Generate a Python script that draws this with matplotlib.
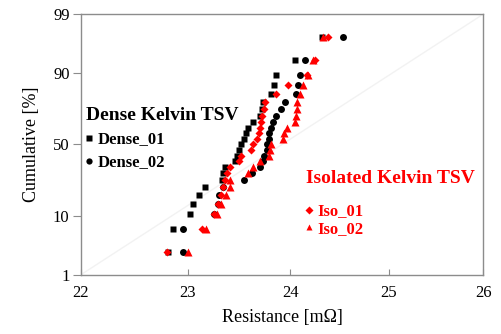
import numpy as np
import matplotlib
matplotlib.use("Agg")
import matplotlib.pyplot as plt
from matplotlib.ticker import FixedLocator, FixedFormatter, NullLocator
from statistics import NormalDist

plt.rcParams['font.family'] = ['Liberation Serif', 'DejaVu Serif']

# cumulative plotting positions [%], shared by all four samples
cum_pct = [2.76, 6.69, 10.63, 14.57, 18.50, 22.44, 26.38, 30.31, 34.25, 38.19,
           42.13, 46.06, 50.00, 53.94, 57.87, 61.81, 65.75, 69.69, 73.62, 77.56,
           81.50, 85.43, 89.37, 93.31, 97.24]

# resistance [mOhm], sorted
dense_01 = [22.81, 22.86, 23.02, 23.05, 23.11, 23.16, 23.33, 23.34, 23.36, 23.45,
            23.47, 23.49, 23.51, 23.54, 23.56, 23.58, 23.63, 23.70, 23.72, 23.73,
            23.81, 23.84, 23.86, 24.05, 24.32]
dense_02 = [22.95, 22.95, 23.25, 23.29, 23.30, 23.34, 23.54, 23.62, 23.70, 23.73,
            23.74, 23.77, 23.77, 23.79, 23.79, 23.81, 23.83, 23.86, 23.91, 23.95,
            24.06, 24.08, 24.10, 24.15, 24.53]
iso_01 = [22.80, 23.14, 23.25, 23.29, 23.32, 23.34, 23.36, 23.38, 23.41, 23.49,
          23.51, 23.61, 23.63, 23.67, 23.69, 23.70, 23.71, 23.72, 23.74, 23.75,
          23.86, 23.98, 24.17, 24.25, 24.38]
iso_02 = [23.00, 23.17, 23.28, 23.32, 23.37, 23.41, 23.41, 23.58, 23.63, 23.70,
          23.79, 23.80, 23.81, 23.93, 23.94, 23.97, 24.05, 24.06, 24.07, 24.07,
          24.10, 24.13, 24.18, 24.23, 24.33]

x_ticks = [22, 23, 24, 25, 26]
y_ticks = [1, 10, 50, 90, 99]

nd = NormalDist()
_ppf = np.vectorize(nd.inv_cdf, otypes=[float])
_cdf = np.vectorize(nd.cdf, otypes=[float])


def probit(p):
    p = np.clip(np.asarray(p, dtype=float) / 100.0, 1e-9, 1 - 1e-9)
    return _ppf(p)


def inv_probit(z):
    return _cdf(np.asarray(z, dtype=float)) * 100.0


fig = plt.figure(figsize=(5.01, 3.34), dpi=100)
ax = fig.add_axes([0.161, 0.177, 0.804, 0.781])

ax.set_xscale('log')
ax.set_yscale('function', functions=(probit, inv_probit))

# faint reference diagonal
ax.plot([x_ticks[0], x_ticks[-1]], [y_ticks[0], y_ticks[-1]], color='#f2f2f2', lw=1, zorder=0)

h1, = ax.plot(dense_01, cum_pct, 's', color='black', ms=5, mec='none')
h2, = ax.plot(dense_02, cum_pct, 'o', color='black', ms=5, mec='none')
h3, = ax.plot(iso_01, cum_pct, 'D', color='red', ms=4.5, mec='none')
h4, = ax.plot(iso_02, cum_pct, '^', color='red', ms=5.5, mec='none')

ax.set_xlim(x_ticks[0], x_ticks[-1])
ax.set_ylim(y_ticks[0], y_ticks[-1])

ax.xaxis.set_major_locator(FixedLocator(x_ticks))
ax.xaxis.set_major_formatter(FixedFormatter([str(v) for v in x_ticks]))
ax.xaxis.set_minor_locator(NullLocator())
ax.yaxis.set_major_locator(FixedLocator(y_ticks))
ax.yaxis.set_major_formatter(FixedFormatter([str(v) for v in y_ticks]))
ax.yaxis.set_minor_locator(NullLocator())

for s in ax.spines.values():
    s.set_color('#8c8c8c')
    s.set_linewidth(1)
ax.tick_params(axis='x', direction='in', length=4, color='#8c8c8c', labelsize=12, pad=7)
ax.tick_params(axis='y', direction='out', length=6, color='#8c8c8c', labelsize=12, pad=2)

ax.set_xlabel('Resistance [m\u03a9]', fontsize=13, labelpad=6)
ax.set_ylabel('Cumulative [%]', fontsize=13, labelpad=9)

# group labels and legends
fig.text(86 / 501, 1 - 115 / 334, 'Dense Kelvin TSV', fontsize=14, weight='bold',
         color='black', va='center', ha='left')
leg1 = ax.legend([h1, h2], ['Dense_01', 'Dense_02'], loc='upper left',
                 bbox_to_anchor=(76 / 501, 1 - 123 / 334), bbox_transform=fig.transFigure,
                 frameon=False, prop={'weight': 'bold', 'size': 12}, borderpad=0,
                 handlelength=0.6, handletextpad=0.2, labelspacing=0.42, markerscale=0.9)
ax.add_artist(leg1)

fig.text(306 / 501, 1 - 179 / 334, 'Isolated Kelvin TSV', fontsize=14, weight='bold',
         color='red', va='center', ha='left')
leg2 = ax.legend([h3, h4], ['Iso_01', 'Iso_02'], loc='upper left',
                 bbox_to_anchor=(296 / 501, 1 - 195 / 334), bbox_transform=fig.transFigure,
                 frameon=False, prop={'weight': 'bold', 'size': 12}, borderpad=0,
                 handlelength=0.6, handletextpad=0.2, labelspacing=0.1, labelcolor='red',
                 markerscale=0.9)

fig.savefig('out.png', dpi=100)
